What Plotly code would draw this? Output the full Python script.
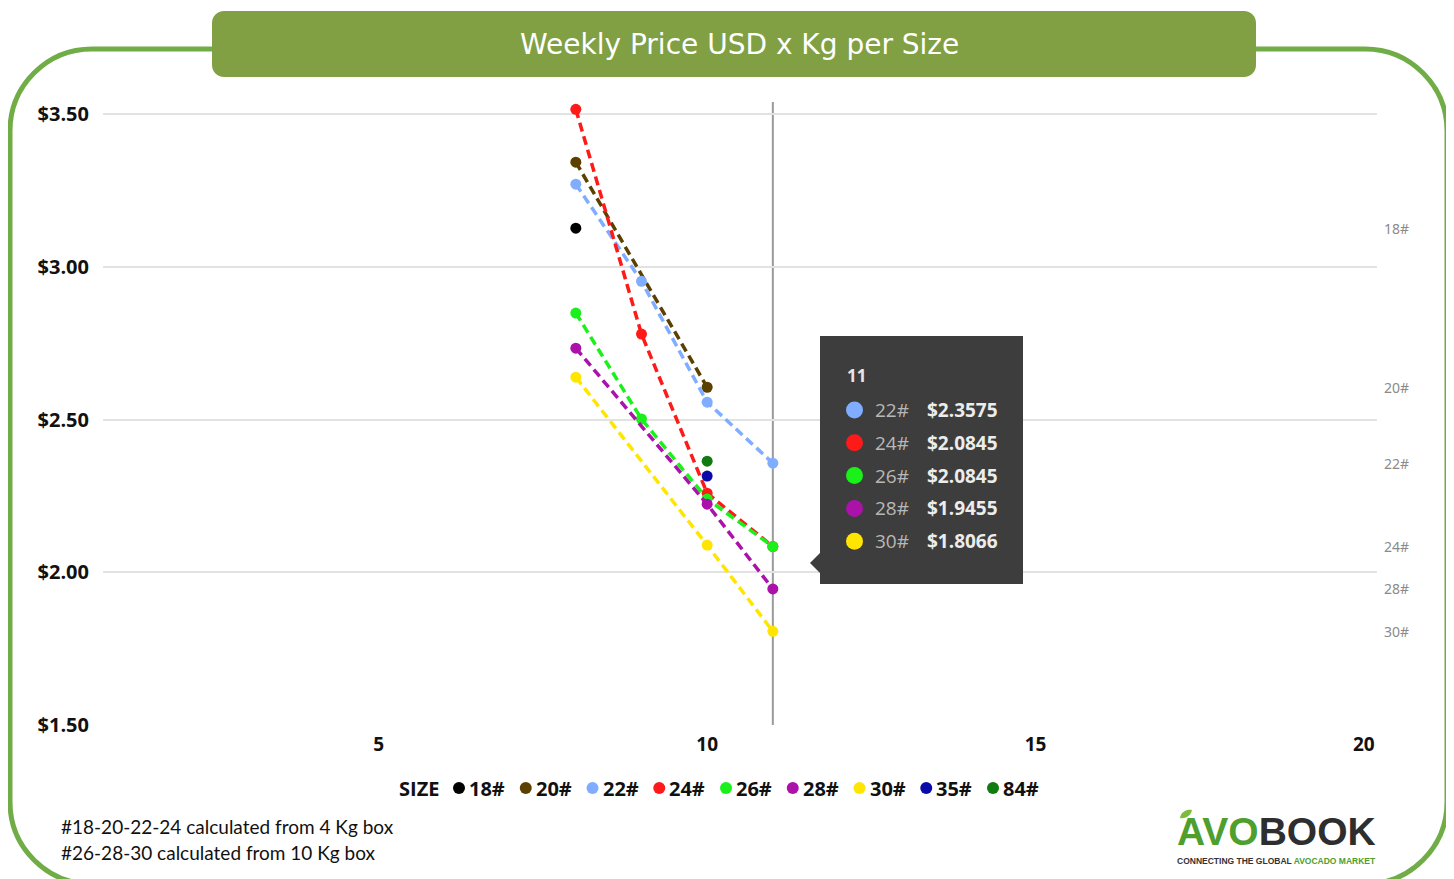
import plotly.graph_objects as go

# ---------------- data ----------------
weeks = [8, 9, 10, 11]
sizes = ["18#", "20#", "22#", "24#", "26#", "28#", "30#", "35#", "84#"]
colors = ["#000000", "#5C4000", "#80ADFF", "#FF1A1A", "#1AF01A",
          "#AA12AA", "#FFE500", "#0A0AAA", "#117A11"]
price_18 = [3.127, None, None, None]
price_20 = [3.343, None, 2.606, None]
price_22 = [3.271, 2.953, 2.557, 2.3575]
price_24 = [3.516, 2.780, 2.259, 2.0845]
price_26 = [2.849, 2.502, 2.240, 2.0845]
price_28 = [2.734, None, 2.223, 1.9455]
price_30 = [2.639, None, 2.089, 1.8066]
price_35 = [None, None, 2.315, None]
price_84 = [None, None, 2.364, None]
prices = [price_18, price_20, price_22, price_24, price_26,
          price_28, price_30, price_35, price_84]

x_ticks = [5, 10, 15, 20]
y_ticks = [1.5, 2.0, 2.5, 3.0, 3.5]
y_ticktext = [f"${v:.2f}" for v in y_ticks]
hover_week = 11
title_text = "Weekly Price USD x Kg per Size"
legend_title = "SIZE"
notes = ["#18-20-22-24 calculated from 4 Kg box",
         "#26-28-30 calculated from 10 Kg box"]

# ---------------- layout helpers (page pixel coords) ----------------
PAGE_W, PAGE_H = 1454, 879
BODY = 8  # default page body margin
W, H = PAGE_W - BODY, PAGE_H - BODY
PL, PR, PT, PB = 103, 1377, 102, 725


def fx(px):
    return (px - PL) / (PR - PL)


def fy(py):
    return (PB - py) / (PB - PT)


def rrect_path(x0, y0, x1, y1, r):
    k = 0.5523 * r
    pts = [
        ("M", [(x0 + r, y0)]),
        ("L", [(x1 - r, y0)]),
        ("C", [(x1 - r + k, y0), (x1, y0 + r - k), (x1, y0 + r)]),
        ("L", [(x1, y1 - r)]),
        ("C", [(x1, y1 - r + k), (x1 - r + k, y1), (x1 - r, y1)]),
        ("L", [(x0 + r, y1)]),
        ("C", [(x0 + r - k, y1), (x0, y1 - r + k), (x0, y1 - r)]),
        ("L", [(x0, y0 + r)]),
        ("C", [(x0, y0 + r - k), (x0 + r - k, y0), (x0 + r, y0)]),
    ]
    s = ""
    for cmd, ps in pts:
        s += cmd + " " + " ".join(f"{fx(a):.5f},{fy(b):.5f}" for a, b in ps) + " "
    return s + "Z"


def poly_path(points):
    s = "M " + " L ".join(f"{fx(a):.5f},{fy(b):.5f}" for a, b in points)
    return s + " Z"


fig = go.Figure()

for name, col, vals in zip(sizes, colors, prices):
    fig.add_trace(go.Scatter(
        x=weeks, y=vals, name=name, mode="lines+markers", connectgaps=True,
        line=dict(color=col, width=3.5, dash="9px,5px"),
        marker=dict(color=col, size=11),
        showlegend=False, hoverinfo="skip"))

shapes = []
annotations = []

# outer rounded frame
shapes.append(dict(type="path", xref="paper", yref="paper", layer="below",
                   path=rrect_path(10, 49, 1447, 884, 82),
                   line=dict(color="#70AD47", width=5), fillcolor="rgba(0,0,0,0)"))
# title banner
shapes.append(dict(type="path", xref="paper", yref="paper", layer="above",
                   path=rrect_path(212, 11, 1256, 77, 12),
                   line=dict(color="#80A043", width=0), fillcolor="#80A043"))
annotations.append(dict(xref="paper", yref="paper", x=fx(739), y=fy(45),
                        text=title_text, showarrow=False,
                        font=dict(family="DejaVu Sans", size=28, color="white"),
                        xanchor="center", yanchor="middle"))

# crosshair at hovered week
shapes.append(dict(type="line", xref="x", yref="paper", x0=hover_week, x1=hover_week,
                   y0=0, y1=1, layer="below", line=dict(color="#9a9a9a", width=2)))

# right-hand end labels (skip overlapping ones)
placed = []
for name, vals in zip(sizes, prices):
    last = [v for v in vals if v is not None][-1]
    if any(abs(last - p) < 0.06 for p in placed):
        continue
    placed.append(last)
    annotations.append(dict(xref="paper", yref="y", x=fx(1382), y=last, text=name,
                            showarrow=False, xanchor="left", yanchor="middle",
                            font=dict(family="Noto Sans", size=14, color="#8a8a8a")))

# tooltip
shapes.append(dict(type="rect", xref="paper", yref="paper", layer="above",
                   x0=fx(820), x1=fx(1023), y0=fy(584), y1=fy(336),
                   fillcolor="#3d3d3d", line=dict(width=0)))
shapes.append(dict(type="path", xref="paper", yref="paper", layer="above",
                   path=poly_path([(821, 552), (810, 563), (821, 574)]),
                   fillcolor="#3d3d3d", line=dict(width=0)))
annotations.append(dict(xref="paper", yref="paper", x=fx(845), y=fy(375),
                        text=f"<b>{hover_week}</b>", showarrow=False,
                        xanchor="left", yanchor="middle",
                        font=dict(family="Open Sans", size=17, color="#e6e6e6")))
hi = weeks.index(hover_week)
row = 0
for name, col, vals in zip(sizes, colors, prices):
    v = vals[hi]
    if v is None:
        continue
    ypx = 410 + row * 32.8
    shapes.append(dict(type="circle", xref="paper", yref="paper", layer="above",
                       x0=fx(846), x1=fx(863), y0=fy(ypx + 8.5), y1=fy(ypx - 8.5),
                       fillcolor=col, line=dict(width=0)))
    annotations.append(dict(xref="paper", yref="paper", x=fx(873), y=fy(ypx),
                            text=name, showarrow=False, xanchor="left", yanchor="middle",
                            font=dict(family="Open Sans", size=19, color="#b8b8b8")))
    annotations.append(dict(xref="paper", yref="paper", x=fx(925), y=fy(ypx),
                            text=f"<b>${v:.4f}</b>", showarrow=False, xanchor="left",
                            yanchor="middle",
                            font=dict(family="Open Sans", size=19, color="#ececec")))
    row += 1

# legend row
annotations.append(dict(xref="paper", yref="paper", x=fx(441), y=fy(788),
                        text=f"<b>{legend_title}</b>", showarrow=False,
                        xanchor="right", yanchor="middle",
                        font=dict(family="Open Sans", size=20, color="#111111")))
for i, (name, col) in enumerate(zip(sizes, colors)):
    cx = 459 + i * 66.75
    shapes.append(dict(type="circle", xref="paper", yref="paper", layer="above",
                       x0=fx(cx - 6), x1=fx(cx + 6), y0=fy(794), y1=fy(782),
                       fillcolor=col, line=dict(width=0)))
    annotations.append(dict(xref="paper", yref="paper", x=fx(cx + 8), y=fy(788),
                            text=f"<b>{name}</b>", showarrow=False,
                            xanchor="left", yanchor="middle",
                            font=dict(family="Open Sans", size=20, color="#111111")))

# footnotes
for j, note in enumerate(notes):
    annotations.append(dict(xref="paper", yref="paper", x=fx(59), y=fy(826 + j * 26),
                            text=note, showarrow=False, xanchor="left", yanchor="middle",
                            font=dict(family="Lato", size=19, color="#111111")))

# logo
annotations.append(dict(xref="paper", yref="paper", x=fx(1378), y=fy(855),
                        text="<b><span style='color:#4E9F2E'>AVO</span>"
                             "<span style='color:#2E2E2E'>BOOK</span></b>",
                        showarrow=False, xanchor="right", yanchor="bottom",
                        font=dict(family="Liberation Sans", size=39)))
annotations.append(dict(xref="paper", yref="paper", x=fx(1378), y=fy(854),
                        text="<b><span style='color:#333333'>CONNECTING THE GLOBAL </span>"
                             "<span style='color:#4E9F2E'>AVOCADO MARKET</span></b>",
                        showarrow=False, xanchor="right", yanchor="top",
                        font=dict(family="Liberation Sans", size=8.5)))
shapes.append(dict(type="path", xref="paper", yref="paper", layer="above",
                   path="M {0:.5f},{1:.5f} C {2:.5f},{3:.5f} {4:.5f},{5:.5f} {6:.5f},{7:.5f} "
                        "C {8:.5f},{9:.5f} {10:.5f},{11:.5f} {0:.5f},{1:.5f} Z".format(
                            fx(1180), fy(818), fx(1181), fy(811), fx(1188), fy(809),
                            fx(1192), fy(810), fx(1191), fy(816), fx(1185), fy(819)),
                   fillcolor="#7DBB3C", line=dict(width=0)))

fig.update_layout(
    width=W, height=H,
    margin=dict(l=PL - BODY, r=PAGE_W - PR, t=PT - BODY, b=PAGE_H - PB),
    paper_bgcolor="white", plot_bgcolor="white",
    shapes=shapes, annotations=annotations,
    showlegend=False, hovermode=False,
    xaxis=dict(range=[0.8, 20.2], tickvals=x_ticks, showgrid=False, zeroline=False,
               showline=False, ticks="", ticklabelstandoff=6,
               tickfont=dict(family="Open Sans", size=19, color="#111111", weight="bold")),
    yaxis=dict(range=[1.5, 3.54], tickvals=y_ticks, ticktext=y_ticktext,
               showgrid=True, gridcolor="#e2e2e2", gridwidth=1.5, zeroline=False,
               showline=False, ticks="", ticklabelstandoff=13,
               tickfont=dict(family="Open Sans", size=20, color="#111111", weight="bold")),
)

fig.write_html("out.html")
